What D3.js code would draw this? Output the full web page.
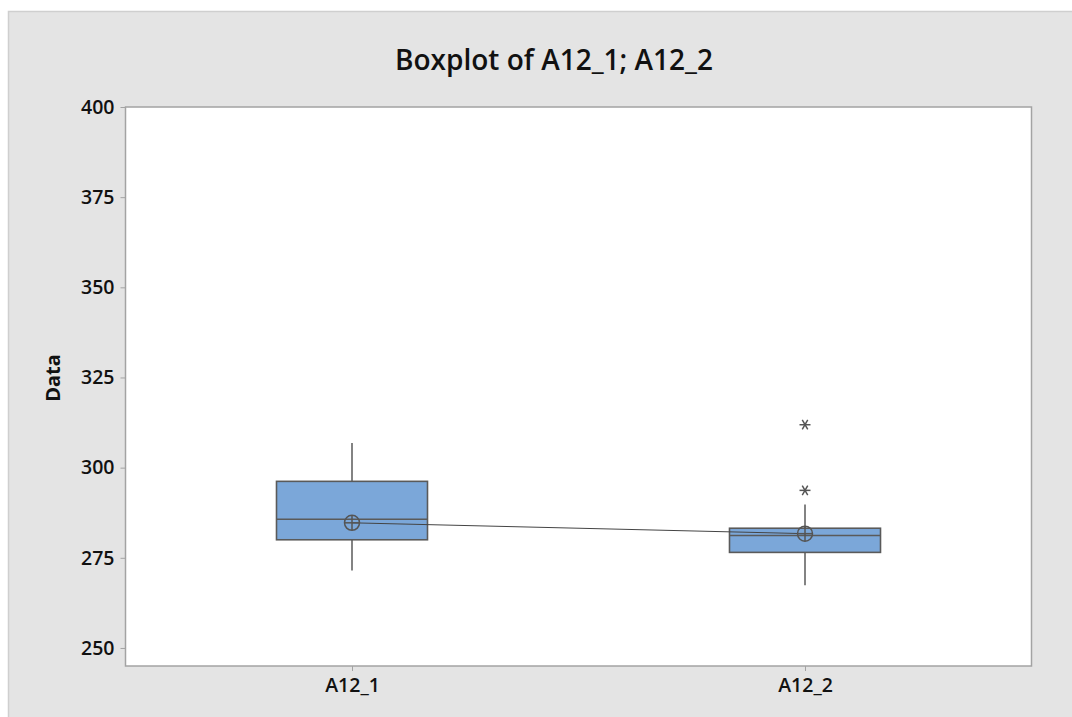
<!DOCTYPE html>
<html>
<head>
<meta charset="utf-8">
<script src="https://cdn.jsdelivr.net/npm/d3@7"></script>
<style>
  html, body { margin: 0; padding: 0; background: #ffffff; }
  svg { display: block; }
</style>
</head>
<body>
<script>
// ---- data ----
const categories = ["A12_1", "A12_2"];
const whiskerLow  = [271.5, 267.4];
const q1Values    = [280.0, 276.5];
const medians     = [285.7, 281.2];
const q3Values    = [296.2, 283.2];
const whiskerHigh = [306.8, 289.8];
const means       = [284.7, 281.7];
const outliers    = [[], [293.7, 311.9]];
const yTicks      = [250, 275, 300, 325, 350, 375, 400];
const titleText   = "Boxplot of A12_1; A12_2";
const yLabel      = "Data";

const W = 1072, H = 717;
const plot = { left: 125.5, top: 107, right: 1031.5, bottom: 666 };
const font = "'Open Sans', 'Noto Sans', sans-serif";

const svg = d3.select("body").append("svg").attr("width", W).attr("height", H);

// outer panel
svg.append("rect").attr("x", 8.5).attr("y", 11.5).attr("width", W).attr("height", H)
  .attr("fill", "#e4e4e4").attr("stroke", "#cfcfcf").attr("stroke-width", 1.5);

// plot area
svg.append("rect").attr("x", plot.left).attr("y", plot.top)
  .attr("width", plot.right - plot.left).attr("height", plot.bottom - plot.top)
  .attr("fill", "#ffffff").attr("stroke", "#a3a3a3").attr("stroke-width", 1.5);

const y = d3.scaleLinear().domain([245, 400]).range([plot.bottom, plot.top]);
const x = d3.scalePoint().domain(categories).range([plot.left, plot.right]).padding(0.5);
const boxW = x.step() / 3;

// axes
const yAxis = svg.append("g").attr("transform", `translate(${plot.left},0)`)
  .call(d3.axisLeft(y).tickValues(yTicks).tickSize(5).tickPadding(6));
const xAxis = svg.append("g").attr("transform", `translate(0,${plot.bottom})`)
  .call(d3.axisBottom(x).tickSize(5).tickPadding(7));
[yAxis, xAxis].forEach(g => {
  g.select(".domain").remove();
  g.selectAll(".tick line").attr("stroke", "#a3a3a3").attr("stroke-width", 1);
  g.selectAll(".tick text").attr("fill", "#111").attr("font-family", font)
    .attr("font-weight", 600).attr("font-size", 19.5);
});

// title
svg.append("text").attr("x", 554).attr("y", 70)
  .attr("text-anchor", "middle").attr("font-family", font).attr("font-weight", 600)
  .attr("font-size", 28).attr("fill", "#111").text(titleText);

// y label
svg.append("text").attr("transform", `translate(60,378) rotate(-90)`)
  .attr("text-anchor", "middle").attr("font-family", font).attr("font-weight", 700)
  .attr("font-size", 20).attr("fill", "#111").text(yLabel);

const stroke = "#5a5a5a";
const groups = categories.map((c, i) => ({ c, i }));

// whiskers
const g = svg.append("g");
g.selectAll("line.wlo").data(groups).join("line")
  .attr("x1", d => x(d.c)).attr("x2", d => x(d.c))
  .attr("y1", d => y(whiskerLow[d.i])).attr("y2", d => y(q1Values[d.i]))
  .attr("stroke", stroke).attr("stroke-width", 1.5);
g.selectAll("line.whi").data(groups).join("line")
  .attr("x1", d => x(d.c)).attr("x2", d => x(d.c))
  .attr("y1", d => y(whiskerHigh[d.i])).attr("y2", d => y(q3Values[d.i]))
  .attr("stroke", stroke).attr("stroke-width", 1.5);

// boxes
g.selectAll("rect.box").data(groups).join("rect")
  .attr("x", d => x(d.c) - boxW / 2).attr("width", boxW)
  .attr("y", d => y(q3Values[d.i])).attr("height", d => y(q1Values[d.i]) - y(q3Values[d.i]))
  .attr("fill", "#7ba7d9").attr("stroke", stroke).attr("stroke-width", 1.6);

// medians
g.selectAll("line.med").data(groups).join("line")
  .attr("x1", d => x(d.c) - boxW / 2).attr("x2", d => x(d.c) + boxW / 2)
  .attr("y1", d => y(medians[d.i])).attr("y2", d => y(medians[d.i]))
  .attr("stroke", stroke).attr("stroke-width", 1.5);

// mean connect line
svg.append("path")
  .attr("d", d3.line().x(d => x(d.c)).y(d => y(means[d.i]))(groups))
  .attr("fill", "none").attr("stroke", "#444").attr("stroke-width", 1);

// mean symbols (circle with cross)
const r = 7.5;
const ms = svg.selectAll("g.mean").data(groups).join("g")
  .attr("transform", d => `translate(${x(d.c)},${y(means[d.i])})`);
ms.append("circle").attr("r", r).attr("fill", "none").attr("stroke", "#555").attr("stroke-width", 1.5);
ms.append("line").attr("x1", -r).attr("x2", r).attr("stroke", "#555").attr("stroke-width", 1.5);
ms.append("line").attr("y1", -r).attr("y2", r).attr("stroke", "#555").attr("stroke-width", 1.5);

// outliers (asterisks)
const outPts = [];
outliers.forEach((arr, i) => arr.forEach(v => outPts.push({ c: categories[i], v })));
const s = 5.5;
const os = svg.selectAll("g.out").data(outPts).join("g")
  .attr("transform", d => `translate(${x(d.c)},${y(d.v)})`);
[0, 60, 120].forEach(a => {
  const rad = a * Math.PI / 180;
  os.append("line")
    .attr("x1", -s * Math.cos(rad)).attr("y1", -s * Math.sin(rad))
    .attr("x2", s * Math.cos(rad)).attr("y2", s * Math.sin(rad))
    .attr("stroke", "#555").attr("stroke-width", 1.5);
});
</script>
</body>
</html>
